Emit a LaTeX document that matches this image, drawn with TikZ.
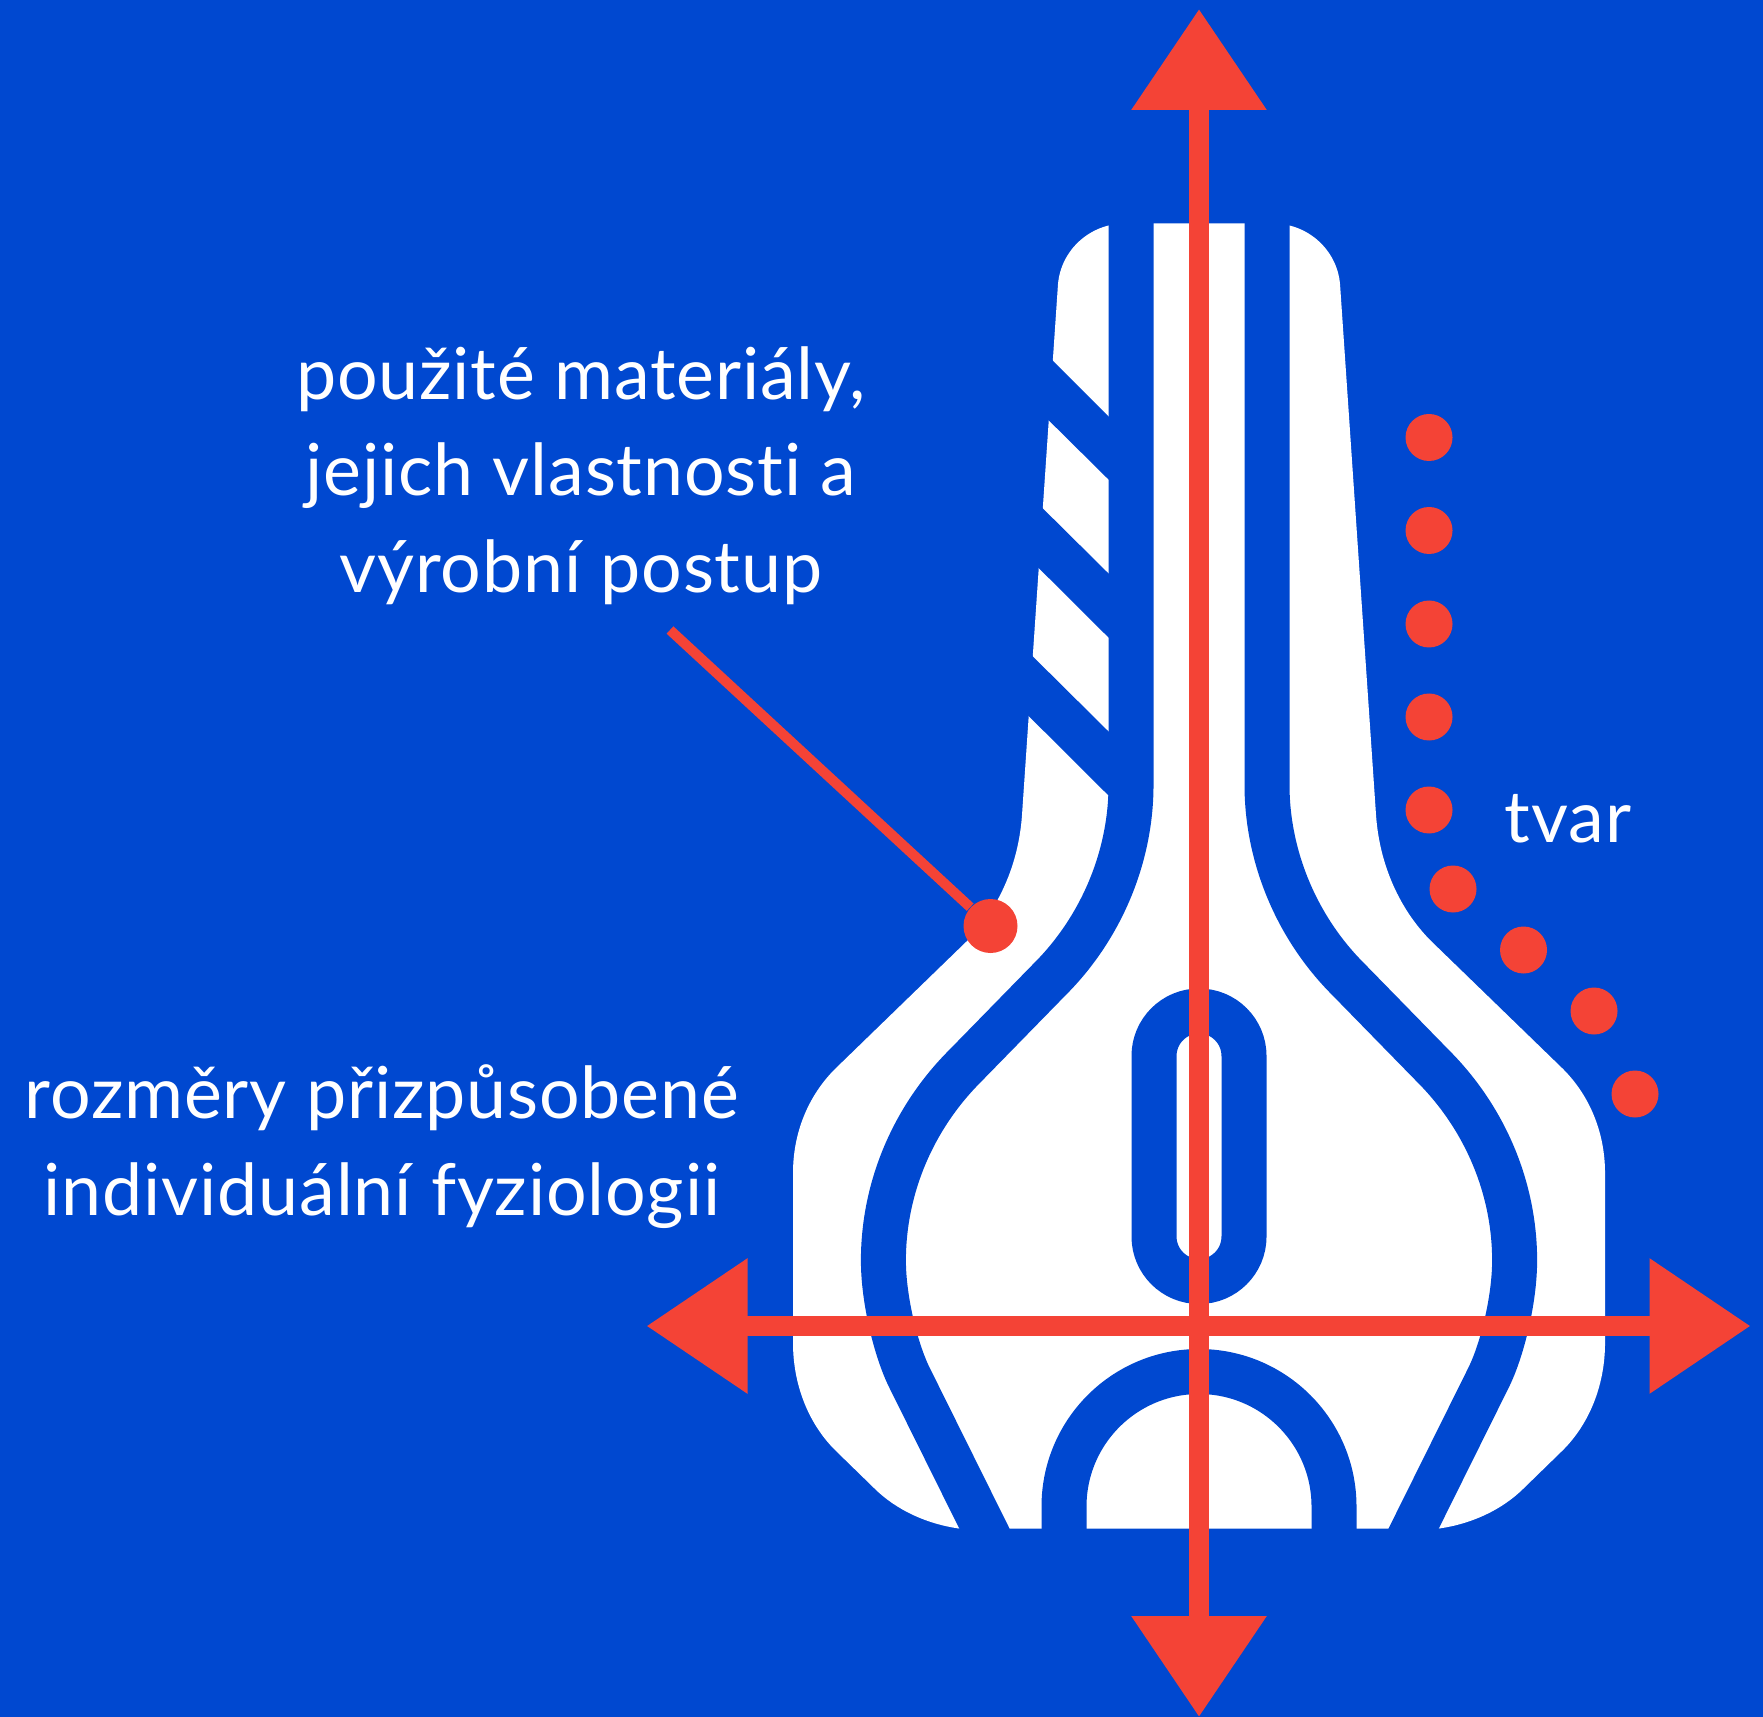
\documentclass[tikz,border=0pt]{standalone}
\usepackage{fontspec}
\usepackage{tikz}
\usetikzlibrary{arrows.meta}
\setmainfont{Lato}[LetterSpace=1.2, Ligatures=NoCommon]
\definecolor{seatblue}{HTML}{0048D0}
\definecolor{seatred}{HTML}{F44336}

% Outline of one half of the seat, offsets from the middle line
\newcommand{\seatoutline}{
	\fill[white] (0,223.5) -- (-74,223.5) .. controls (-109,223.5) and (-138,250) .. (-141,284)
		-- (-177,815) .. controls (-180.4,865) and (-201,910) .. (-232,941)
		-- (-364,1069) .. controls (-391,1096) and (-406,1133) .. (-406,1173)
		-- (-406,1343) .. controls (-406,1384) and (-391,1423) .. (-364,1450)
		-- (-325,1488) .. controls (-303,1510) and (-272,1524) .. (-240,1528.5)
		-- (0,1528.5) -- cycle;
}
% Long groove of one half of the seat
\newcommand{\seatgroove}{
	\draw[groove] (-68,200) -- (-68,785) .. controls (-68,857) and (-98,928) .. (-149,979)
		-- (-234,1066) .. controls (-285.6,1117.6) and (-315.6,1187.5) .. (-315.6,1260.5)
		.. controls (-315.6,1300) and (-303,1350) .. (-290,1376.7) -- (-199,1560);
}

\begin{document}
\begin{tikzpicture}[x=0.1mm, y=-0.1mm,
		groove/.style={seatblue, line width=4.5mm},
		axis/.style={seatred, line width=2.05mm, {Triangle[length=10.1mm, width=13mm]}-{Triangle[length=10.1mm, width=13mm]}},
		leader/.style={seatred, line width=1mm},
		tvardot/.style={circle, fill=seatred, inner sep=0pt, minimum size=4.7mm},
		bigdot/.style={circle, fill=seatred, inner sep=0pt, minimum size=5.4mm},
		caption/.style={white, align=center, font=\fontsize{20.4pt}{27.5pt}\selectfont}]
	\useasboundingbox (0,0) rectangle (1763,1717);
	\fill[seatblue] (0,0) rectangle (1763,1717);
	
	% Draw the seat
	\begin{scope}[shift={(1199,0)}]
		\seatoutline
		\begin{scope}[xscale=-1]
			\seatoutline
		\end{scope}
		
		% Draw the grooves
		\seatgroove
		\begin{scope}[xscale=-1]
			\seatgroove
		\end{scope}
		\draw[groove, rounded corners=4.5mm] (-45,1011) rectangle (45,1281.5);
		\draw[groove] (-135,1560) -- (-135,1506.5) arc[start angle=180, end angle=360, radius=135] -- (135,1560);
	\end{scope}
	
	% Draw the slanted cuts on the left
	\fill[seatblue] (1013,321) -- (1109,417) -- (1109,480) -- (1009,381) -- cycle;
	\fill[seatblue] (1003,469) -- (1109,574) -- (1109,638) -- (999.5,529) -- cycle;
	\fill[seatblue] (994,618) -- (1109,732) -- (1109,796) -- (989.5,677) -- cycle;
	
	% Draw the two axes
	\coordinate (top) at (1199,9);
	\coordinate (bottom) at (1199,1717);
	\coordinate (left) at (646.5,1326);
	\coordinate (right) at (1750.5,1326);
	\draw[axis] (top) -- (bottom);
	\draw[axis] (left) -- (right);
	
	% Draw the dots along the edge
	\node[tvardot] (edge1) at (1429,437.5) {};
	\node[tvardot] (edge2) at (1429,530.5) {};
	\node[tvardot] (edge3) at (1429,624) {};
	\node[tvardot] (edge4) at (1429,717) {};
	\node[tvardot] (edge5) at (1429,810) {};
	\node[tvardot] (edge6) at (1453,889) {};
	\node[tvardot] (edge7) at (1523.5,950) {};
	\node[tvardot] (edge8) at (1594,1011) {};
	\node[tvardot] (edge9) at (1635,1094) {};
	
	% Draw the labels
	\node[caption] (materials) at (581,475.5) {použité materiály,\\jejich vlastnosti a\\výrobní postup};
	\node[caption] (sizes) at (382,1146.5) {rozměry přizpůsobené\\individuální fyziologii};
	\node[caption] (shape) at (1568,819) {tvar};
	
	% Draw the leader to the big dot
	\coordinate (leadstart) at (670,630);
	\node[bigdot] (matdot) at (990.5,926) {};
	\draw[leader] (leadstart) -- (matdot);
\end{tikzpicture}
\end{document}
